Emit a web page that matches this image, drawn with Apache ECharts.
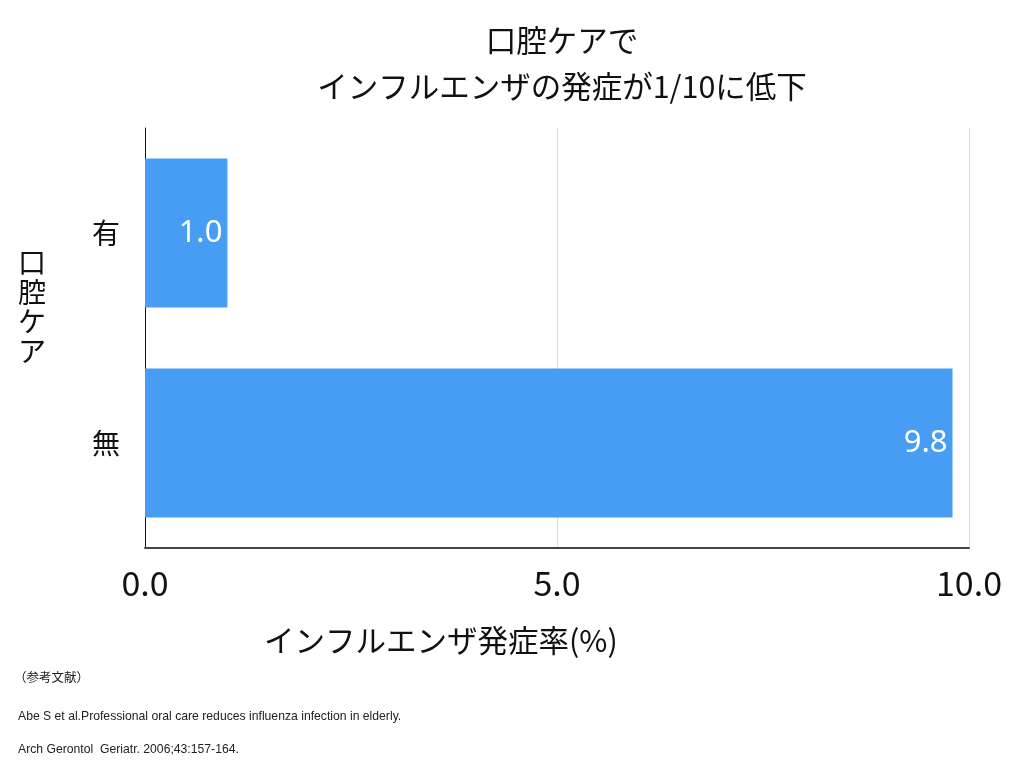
<!DOCTYPE html>
<html>
<head>
<meta charset="utf-8">
<script src="https://cdn.jsdelivr.net/npm/echarts@6/dist/echarts.min.js"></script>
<style>html,body{margin:0;padding:0;background:#fff}#c{width:1024px;height:768px}</style>
</head>
<body>
<div id="c"></div>
<script>
const categories = ['有', '無'];
const values = [1.0, 9.8];
const xTicks = [0, 5, 10];
const titleText = '口腔ケアで\nインフルエンザの発症が1/10に低下';
const yName = '口腔ケア';
const xName = 'インフルエンザ発症率(%)';
const notes = ['（参考文献）', 'Abe S et al.Professional oral care reduces influenza infection in elderly.', 'Arch Gerontol  Geriatr. 2006;43:157-164.'];

const JP = '"Noto Sans CJK JP", "Noto Sans", sans-serif';
const chart = echarts.init(document.getElementById('c'), null, {renderer: 'canvas'});
chart.setOption({
  backgroundColor: '#fff',
  animation: false,
  title: {
    text: titleText,
    left: 557, top: 12, textAlign: 'center',
    textStyle: {fontFamily: JP, fontSize: 30.5, fontWeight: 'normal', color: '#111', lineHeight: 46}
  },
  grid: {left: 145, right: 55, top: 128, bottom: 220, containLabel: false},
  xAxis: {
    type: 'value', min: xTicks[0], max: xTicks[xTicks.length - 1], interval: xTicks[1] - xTicks[0],
    axisLine: {show: true, lineStyle: {color: '#444', width: 2}},
    axisTick: {show: false},
    splitLine: {show: true, lineStyle: {color: '#dcdcdc', width: 1}},
    axisLabel: {
      formatter: v => v.toFixed(1), margin: 18,
      fontFamily: JP, fontSize: 34, color: '#111'
    }
  },
  yAxis: {
    type: 'category', data: categories, inverse: true,
    axisLine: {show: true, lineStyle: {color: '#111', width: 1}},
    axisTick: {show: false},
    splitLine: {show: false},
    axisLabel: {margin: 25, fontFamily: JP, fontSize: 28, color: '#111'}
  },
  series: [{
    type: 'bar', data: values, barWidth: 149,
    itemStyle: {color: '#479cf4'},
    label: {
      show: true, position: 'insideRight', distance: 5,
      formatter: p => p.value.toFixed(1),
      fontFamily: '"Noto Sans", sans-serif', fontSize: 31, color: '#fff'
    }
  }],
  graphic: [
    {type: 'text', left: 18, top: 248, style: {text: yName.split('').join('\n'), fontFamily: JP, fontSize: 28, lineHeight: 29.5, fill: '#111'}},
    {type: 'text', left: 264, top: 625, style: {text: xName, fontFamily: JP, fontSize: 30.5, fill: '#111'}},
    {type: 'text', left: 14, top: 671, style: {text: notes[0], fontFamily: JP, fontSize: 12.5, fill: '#222'}},
    {type: 'text', left: 18, top: 711, style: {text: notes[1], fontFamily: '"Liberation Sans", sans-serif', fontSize: 12.2, fill: '#222'}},
    {type: 'text', left: 18, top: 744, style: {text: notes[2], fontFamily: '"Liberation Sans", sans-serif', fontSize: 12.2, fill: '#222'}}
  ]
});
</script>
</body>
</html>
